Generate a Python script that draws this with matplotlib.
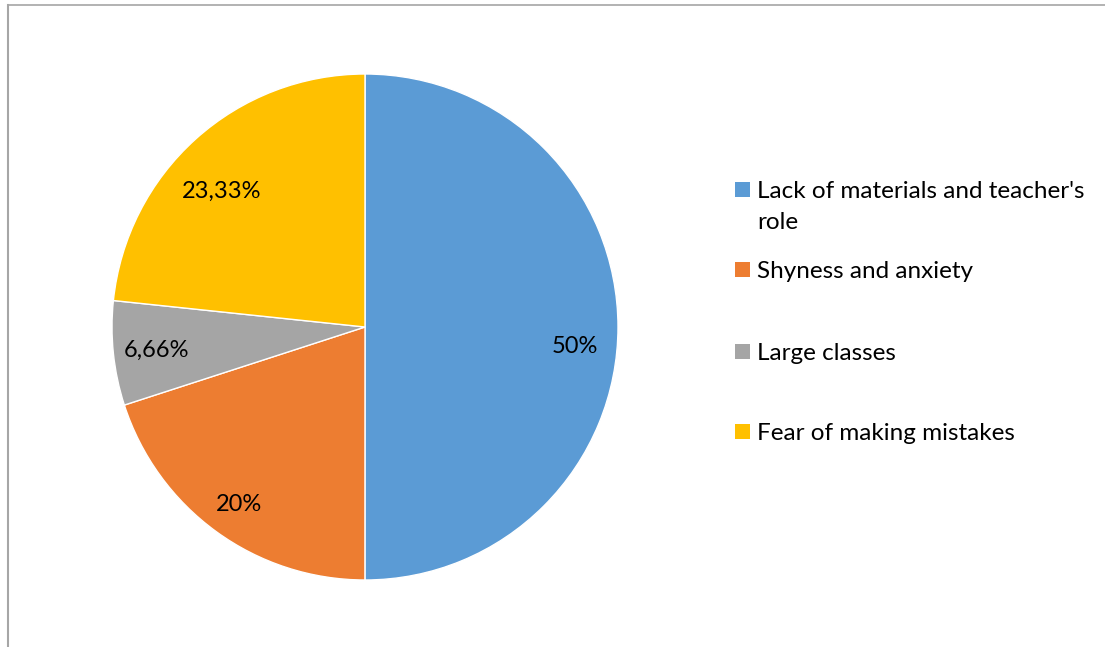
import matplotlib.pyplot as plt
from matplotlib.lines import Line2D
from matplotlib.patches import Rectangle

plt.rcParams['font.family'] = ['Lato', 'DejaVu Sans']

categories = ["Lack of materials and teacher's\nrole", "Shyness and anxiety",
              "Large classes", "Fear of making mistakes"]
values = [50, 20, 6.66, 23.33]
value_labels = ["50%", "20%", "6,66%", "23,33%"]
colors = ["#5B9BD5", "#ED7D31", "#A5A5A5", "#FFC000"]

W, H = 1105, 647
fig = plt.figure(figsize=(W / 100, H / 100), dpi=100)

# pie area: centre (365, 327) px, radius 253 px
cx, cy, r = 365, 327, 253
ax = fig.add_axes([(cx - r) / W, (H - cy - r) / H, 2 * r / W, 2 * r / H])
wedges, texts, autotexts = ax.pie(values, colors=colors, startangle=90, counterclock=False,
                                  autopct='%.2f', pctdistance=0.83,
                                  wedgeprops=dict(edgecolor='white', linewidth=1))
# small nudges so the labels sit like the best-fit placement
nudges = [(0.0, -0.075), (-0.01, -0.03), (0.0, -0.005), (-0.01, -0.08)]
for t, lab, (dx, dy) in zip(autotexts, value_labels, nudges):
    x, y = t.get_position()
    t.set_position((x + dx, y + dy))
    t.set_text(lab)
    t.set_fontsize(17)
    t.set_color('black')
ax.set_xlim(-1, 1)
ax.set_ylim(-1, 1)
ax.set_aspect('equal')
ax.axis('off')

# legend drawn by hand to keep Excel-like spacing
legend_y = [190, 270, 352, 432]
for cat, col, y in zip(categories, colors, legend_y):
    fig.add_artist(Rectangle((735 / W, 1 - (y + 7) / H), 15 / W, 15 / H,
                             transform=fig.transFigure, facecolor=col, edgecolor='none'))
    fig.text(757 / W, 1 - (y - 9) / H, cat, fontsize=17.5, va='top', ha='left',
             linespacing=1.6)

# chart area border (top and left edges visible)
fig.add_artist(Line2D([7.5 / W, 1], [1 - 5 / H, 1 - 5 / H], color='#A6A6A6', lw=1.2,
                      transform=fig.transFigure))
fig.add_artist(Line2D([7.5 / W, 7.5 / W], [0, 1 - 5 / H], color='#A6A6A6', lw=1.5,
                      transform=fig.transFigure))

fig.savefig('out.png', dpi=100)
